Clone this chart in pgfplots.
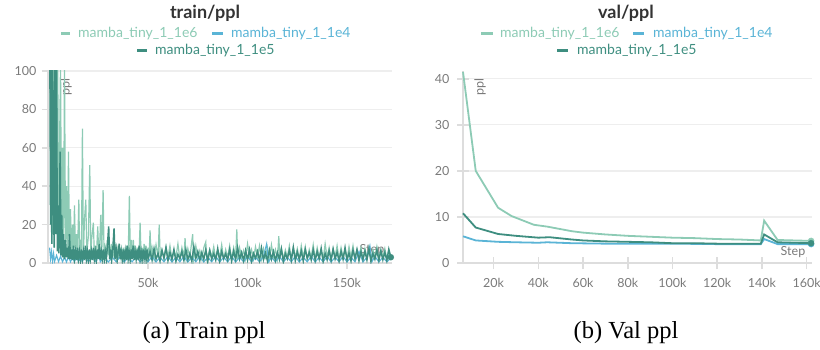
\documentclass[border=0pt]{standalone}
\usepackage{fontspec}
\setmainfont{Lato}
\newfontfamily\capfont{Liberation Serif}
\usepackage{pgfplots}
\pgfplotsset{compat=1.18}
\definecolor{cA}{HTML}{8DCBB5}
\definecolor{cB}{HTML}{5AB4D6}
\definecolor{cC}{HTML}{3E8E80}
\definecolor{gridc}{HTML}{EEEEEE}
\definecolor{axc}{HTML}{DDDDDD}
\definecolor{tickc}{HTML}{7A7A7A}
\definecolor{titc}{HTML}{333333}
\pgfplotsset{wb/.style={
  scale only axis,
  axis x line*=bottom, axis y line*=left,
  axis line style={axc, line width=2pt},
  ymajorgrids, grid style={gridc, line width=1.2pt},
  tick style={axc, line width=1.5pt},
  major tick length=12pt, tick align=center,
  /pgf/number format/assume math mode=true,
  tick label style={font=\fontsize{12.5}{14}\selectfont, text=tickc},
}}
\begin{document}
\begin{tikzpicture}
\path[use as bounding box] (0,0) rectangle (820pt,349pt);
% titles
\node[font=\bfseries\fontsize{18}{20}\selectfont, text=titc] at (205pt,336pt) {train/ppl};
\node[font=\bfseries\fontsize{18}{20}\selectfont, text=titc] at (626pt,336pt) {val/ppl};
% legends
\begin{scope}[every node/.style={font=\fontsize{14}{16}\selectfont, anchor=west, inner sep=0pt}]
\draw[cA, line width=3pt] (61pt,315pt) -- (70pt,315pt); \node[text=cA] at (78pt,315pt) {mamba\_tiny\_1\_1e6};
\draw[cB, line width=3pt] (212pt,315pt) -- (223pt,315pt); \node[text=cB] at (231pt,315pt) {mamba\_tiny\_1\_1e4};
\draw[cC, line width=3pt] (137pt,298pt) -- (147pt,298pt); \node[text=cC] at (155pt,298pt) {mamba\_tiny\_1\_1e5};
\draw[cA, line width=3pt] (481pt,315pt) -- (493pt,315pt); \node[text=cA] at (500pt,315pt) {mamba\_tiny\_1\_1e6};
\draw[cB, line width=3pt] (633pt,315pt) -- (644pt,315pt); \node[text=cB] at (653pt,315pt) {mamba\_tiny\_1\_1e4};
\draw[cC, line width=3pt] (557pt,298pt) -- (568pt,298pt); \node[text=cC] at (577pt,298pt) {mamba\_tiny\_1\_1e5};
\end{scope}
\node[font=\fontsize{12.5}{14}\selectfont, text=tickc] at (372pt,99pt) {Step};
\node[font=\fontsize{12.5}{14}\selectfont, text=tickc, rotate=90] at (66pt,262pt) {ppl};
% ---------------- train
\begin{axis}[wb, at={(48pt,86pt)}, anchor=south west,
  width=344pt, height=192pt,
  xmin=-0.3, xmax=172.6, ymin=0, ymax=100,
  xtick={50,100,150}, xticklabels={50k,100k,150k},
  ytick={0,20,40,60,80,100},
  xticklabel style={yshift=-6pt},
  yticklabel style={xshift=-2pt},
]
\addplot[cA, line width=1.2pt] coordinates { (0.5,150) (1,30) (1.5,140) (2,15) (2.5,120) (3,8) (3.5,110) (4,20) (4.5,130) (5,10) (5.5,60) (6,105) (6.5,12) (7,60) (7.5,5) (8,105) (8.5,8) (9,40) (9.5,6) (10,58) (10.5,4) (11,28) (11.5,5) (12,20) (12.5,3) (13,30) (13.5,6) (14,15) (14.5,3) (15.2,33) (15.6,4) (16,12) (16.5,5) (17,70) (17.5,3) (18,22) (18.7,33) (19.2,5) (20,14) (20.7,51) (21.2,3) (21.6,12) (22.5,21) (23,4) (23.5,9) (24,3) (24.7,19) (25.2,5) (25.7,10) (26.2,25) (26.7,4) (27.4,38) (27.9,3) (28.4,8) (29,3) (29.5,12) (30,4) (30.5,9) (31,2) (31.5,10) (32,3) (32.5,8) (33,2) (33.5,10) (34,3) (34.5,7) (35,2) (35.5,9) (36,3) (36.5,7) (37,2) (37.5,8) (38,3) (38.5,7) (39,2) (39.5,9) (40,3) (40.6,35) (41.1,3) (41.6,12) (42.1,2) (42.6,12) (43.1,3) (43.6,9) (44.1,2) (44.6,8) (45.1,3) (45.6,9) (46,21) (46.5,3) (47,8) (47.5,2) (48,10) (48.5,3) (49,9) (49.5,2) (50,8) (50.5,3) (51,17) (51.5,3) (52,8) (53,2) (54,9.5) (55,3) (55.6,20) (56.1,3) (57,7) (58,2) (59,8.5) (60,3) (61,9) (62,2) (63,6.5) (64,3) (65,10) (66,2) (67,8) (68,3) (68.6,13) (69.1,2) (70,7.5) (71,3) (72.4,15) (72.9,2) (74,9) (75,3) (76,6.5) (77,2) (78,8) (79,11) (79.5,2) (81,7) (82,3) (83,8.5) (84,2) (85,6.8) (86,3) (87,9.5) (88,2) (89,7) (90,3) (91,9) (92,2) (93,8) (94,3) (94.6,17.5) (95.1,2) (96,8) (97,3) (98,6.5) (99,2) (100,10) (101,3) (102,7) (103,2) (104,8.5) (105,3) (106,9) (107,2) (108,7.5) (109,3) (110,8) (111,2) (112,9.5) (113,3) (114,7) (115,2) (115.7,14) (116.2,3) (117,8) (118,2) (119,6.8) (120,3) (121,9) (122,2) (123,8) (124,3) (125,7.5) (126,2) (127,9) (128,3) (129,8.5) (130,2) (131,7) (132,3) (133,9.5) (134,2) (135,8) (136,3) (137,7) (138,2) (139,10) (140,3) (141,8) (142,2) (143,7.5) (144,3) (145,9) (146,2) (147,8) (148,3) (149,7) (150,2) (151,8.5) (152,3) (153,9) (154,2) (155,7) (156,3) (157,8) (158,2) (159,7.5) (160,3) (161,8) (162,2) (163,7) (164,3) (165,8.5) (166,2) (167,7) (168,3) (169,7.5) (170,2) (171,6.5) (172,3) };
\addplot[cB, line width=1.1pt] coordinates { (0.5,8) (1,2) (1.5,6) (2,1) (2.5,5) (3,0.8) (4,4) (5,0.7) (6,3.5) (7,0.6) (8,3) (9,0.5) (10,3.5) (11,0.6) (12,3) (13,0.5) (14,3.5) (15,0.7) (16,3) (17,0.5) (18,4) (20,0.6) (22,3) (24,0.5) (25,5) (26,0.6) (28,3.5) (30,0.5) (32,3) (34,0.6) (36,3.5) (38,0.5) (40,3) (42,0.6) (44,3.5) (46,0.5) (48,3) (50,0.6) (52,3.5) (54,0.5) (56,3) (58,0.6) (60,3.5) (62,0.5) (64,3) (66,0.6) (68,3.5) (70,0.5) (72,3) (74,0.6) (76,3.5) (78,0.5) (80,3) (82,0.6) (84,3.5) (86,0.5) (88,3) (90,0.6) (92,3.5) (94,0.5) (96,3) (98,0.6) (100,3.5) (102,0.5) (104,3) (106,0.6) (108,3.5) (109.6,10) (110.5,0.5) (112,3) (114,0.6) (116,3.5) (118,0.5) (120,3) (122,0.6) (124,3.5) (126,0.5) (128,3) (130,0.6) (132,3.5) (134,0.5) (136,3) (138,0.6) (140,3.5) (142,0.5) (144,3) (146,0.6) (148,3.5) (150,0.5) (152,3) (154,0.6) (156,6) (158,0.5) (160,3) (161.5,9) (162.5,0.6) (164,3.5) (166,0.5) (168,3) (170,0.6) (172,2.5) };
\addplot[cC, line width=1.5pt] coordinates { (0.5,140) (1,20) (1.3,130) (1.6,10) (2,110) (2.4,40) (2.8,8) (3.2,120) (3.6,15) (4,105) (4.4,6) (4.8,30) (5.2,5) (5.8,58) (6.2,4) (6.6,25) (7,3) (7.5,15) (8,2) (8.5,12) (9,3) (9.5,8) (10,2) (10.5,15) (11,2) (11.5,7) (12,1.5) (12.5,9) (13,2) (13.5,6) (14,1.5) (14.5,8) (15,2) (15.5,6) (16,1.5) (16.5,7) (17,2) (17.5,6) (18,1.5) (18.5,9) (19,2) (19.5,6) (20,1.5) (20.5,7) (21,2) (21.5,6) (22,1.5) (22.5,8) (23,2) (23.5,6) (24,1.5) (24.5,7) (25,2) (25.5,10) (26,1.5) (26.5,6) (27,2) (27.5,7) (28,1.5) (28.5,6) (29,2) (29.5,8) (30.2,19) (30.7,2) (31.2,7) (31.7,1.5) (32.2,6) (32.9,18) (33.4,2) (34,7) (34.5,1.5) (35,6) (35.5,10) (36,2) (36.5,6) (37,1.5) (37.5,7) (38,2) (38.5,6) (39,1.5) (39.5,9) (40,2) (40.5,6) (41,1.5) (41.5,7) (42,2) (42.5,9) (43,1.5) (43.5,6) (44,2) (44.5,7) (45,1.5) (45.5,9) (46,2) (46.5,6) (47,1.5) (47.5,7) (48,2) (48.5,6) (49,1.5) (49.5,7) (50,2) (51,6) (52,1.5) (53,7.5) (54,2) (55,5) (56,1) (57,6.5) (58,2.5) (59,8) (60,1.2) (61,5.5) (62,1.8) (63,7) (64,0.9) (65,4.5) (66,2.2) (67,6) (68,1.4) (69,7) (70,1.7) (71,5) (72,1) (73,8.5) (74,2.4) (75,6) (76,1.3) (77,5.5) (78,1.9) (79,7) (80,0.8) (81,6.5) (82,2) (83,5) (84,1.6) (85,7.5) (86,1.1) (87,6) (88,2.3) (89,4.8) (90,1.5) (91,7) (92,1) (93,6.2) (94,1.8) (95,8) (96,2.1) (97,5.5) (98,1.2) (99,6.5) (100,1.6) (101,7) (102,0.9) (103,5) (104,2.5) (105,6) (106,1.4) (107,7.8) (108,1.7) (109,5.2) (110,1.1) (111,6.8) (112,2) (113,6) (114,1.3) (115,5.5) (116,1.9) (117,7.2) (118,0.8) (119,4.9) (120,2.2) (121,6.6) (122,1.5) (123,8.2) (124,1.2) (125,5.8) (126,1.8) (127,6.3) (128,1) (129,7.1) (130,2.4) (131,5.4) (132,1.6) (133,6.9) (134,1.3) (135,6) (136,2) (137,7.6) (138,0.9) (139,5.1) (140,1.7) (141,6.4) (142,1.4) (143,7.3) (144,2.1) (145,5.7) (146,1.1) (147,6.1) (148,1.9) (149,8) (150,1.5) (151,5.3) (152,1) (153,6.7) (154,2.3) (155,7) (156,1.2) (157,5.9) (158,1.8) (159,6.2) (160,1.6) (161,7.4) (162,0.9) (163,5) (164,2) (165,6.8) (166,1.4) (167,6.3) (168,1.7) (169,5.6) (170,1.3) (171,7.2) (172,3) };
\addplot[cC, only marks, mark=*, mark size=3pt, mark options={fill=cC, draw=cC}] coordinates {(172,3)};
\end{axis}
% ---------------- val
\begin{axis}[wb, at={(463pt,86pt)}, anchor=south west,
  width=349pt, height=192pt, clip=false,
  xmin=6.3, xmax=162.4, ymin=0, ymax=41.7,
  xtick={20,40,60,80,100,120,140,160}, xticklabels={20k,40k,60k,80k,100k,120k,140k,160k},
  ytick={0,10,20,30,40},
  xticklabel style={yshift=-6pt},
  yticklabel style={xshift=-4pt},
]
\addplot[cA, line width=1.8pt] coordinates { (6.3,41.5) (12,20) (22,12) (28,10.2) (38,8.3) (44,7.9) (55,6.9) (60,6.6) (70,6.2) (80,5.9) (90,5.7) (100,5.5) (110,5.4) (120,5.2) (130,5.1) (139.5,4.9) (141,9.2) (147,5.0) (162,4.8) };
\addplot[cB, line width=1.8pt] coordinates { (6.3,5.8) (12,4.9) (22,4.6) (30,4.5) (40,4.4) (44,4.5) (55,4.3) (70,4.2) (80,4.2) (100,4.2) (120,4.1) (139.5,4.1) (141,5.2) (147,4.1) (162,4.1) };
\addplot[cC, line width=1.8pt] coordinates { (6.3,10.8) (12,7.7) (22,6.3) (30,5.9) (40,5.5) (45,5.6) (55,5.1) (60,4.9) (70,4.7) (80,4.6) (90,4.5) (100,4.3) (110,4.3) (120,4.2) (130,4.2) (139.5,4.2) (141,6.2) (147,4.5) (162,4.3) };
\addplot[only marks, mark=*, mark size=3pt, cA] coordinates {(162,4.8)};
\addplot[only marks, mark=*, mark size=3pt, cB] coordinates {(162,4.1)};
\addplot[only marks, mark=*, mark size=3pt, cC] coordinates {(162,4.3)};
\end{axis}
\node[font=\fontsize{12.5}{14}\selectfont, text=tickc] at (793pt,97pt) {Step};
\node[font=\fontsize{12.5}{14}\selectfont, text=tickc, rotate=90] at (480pt,262pt) {ppl};
% captions
\node[font=\capfont\fontsize{24.5}{28}\selectfont] at (204pt,16pt) {(a) Train ppl};
\node[font=\capfont\fontsize{24.5}{28}\selectfont] at (626pt,16pt) {(b) Val ppl};
\end{tikzpicture}
\end{document}
